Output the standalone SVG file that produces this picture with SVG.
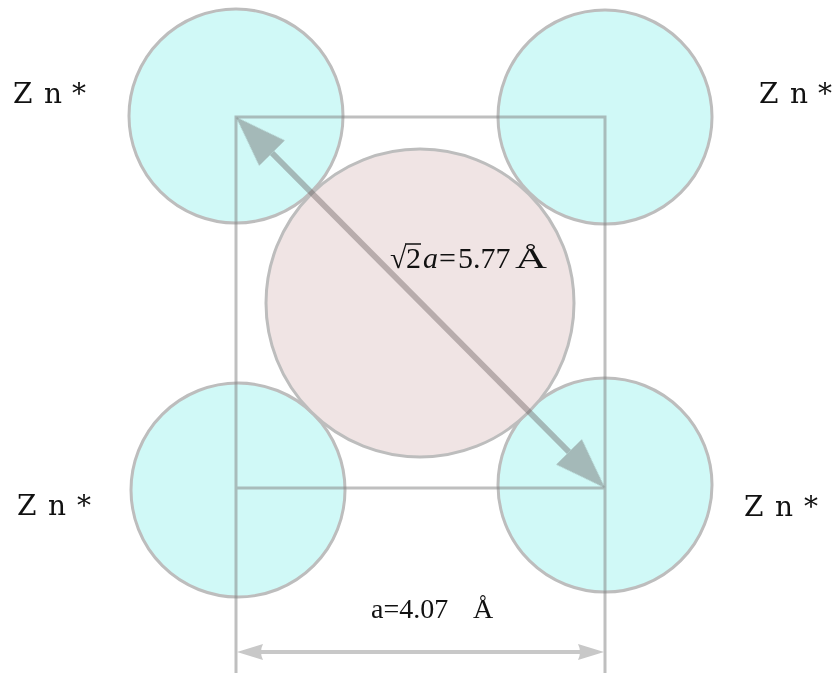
<svg xmlns="http://www.w3.org/2000/svg" width="832" height="673" viewBox="0 0 832 673">
<style>
.zn{fill:#d0f9f7;stroke:#bdbdbd;stroke-width:3}
.cl{fill:#f0e4e4;stroke:#bdbdbd;stroke-width:3}
.lbl{font-family:"DejaVu Serif","Liberation Serif",serif;font-size:28px;fill:#111}
.frame{stroke:#7f7f7f;stroke-opacity:0.5;stroke-width:3;fill:none}
.diag{stroke:#5a5050;stroke-width:6;fill:none}
.diagHead{fill:#5a5050}
.dim{stroke:#c8c8c8;stroke-width:4;fill:none}
.dimHead{fill:#c8c8c8}
.math{font-family:"Liberation Serif","Times New Roman",serif;font-size:30px;fill:#111}
</style>
<rect width="832" height="673" fill="#ffffff"/>
<g id="zn-top-left"><circle class="zn" cx="236" cy="116" r="107"/></g>
<g id="zn-top-right"><circle class="zn" cx="605" cy="117" r="107"/></g>
<g id="zn-bottom-left"><circle class="zn" cx="238" cy="490" r="107"/></g>
<g id="zn-bottom-right"><circle class="zn" cx="605" cy="485" r="107"/></g>
<g id="center"><circle class="cl" cx="420" cy="303" r="154"/></g>
<g id="connectors">
  <path class="frame" d="M236,673 V117 H605 V673 M236,488 H605"/>
  <g opacity="0.38">
    <line class="diag" x1="272" y1="153" x2="569" y2="452"/>
    <path class="diagHead" transform="translate(236,117) rotate(45.15)" d="M0,0 Q26,9 51,18 L51,-18 Q26,-9 0,0 Z"/>
    <path class="diagHead" transform="translate(605,488) rotate(225.15)" d="M0,0 Q26,9 51,18 L51,-18 Q26,-9 0,0 Z"/>
  </g>
  <line class="dim" x1="255" y1="652" x2="586" y2="652"/>
  <path class="dimHead" d="M237,652 L263,644 Q259,652 263,660 Z"/>
  <path class="dimHead" d="M604,652 L578,644 Q582,652 578,660 Z"/>
</g>
<g id="labels">
  <text class="lbl" x="13 44 72" y="103">Zn*</text>
  <text class="lbl" x="759 790 818" y="103">Zn*</text>
  <text class="lbl" x="17 48 77" y="515">Zn*</text>
  <text class="lbl" x="744 775 804" y="516">Zn*</text>
</g>
<g id="formula">
  <text class="math" x="390" y="268">√</text>
  <text class="math" y="268"><tspan x="406">2</tspan><tspan x="423" font-style="italic">a</tspan><tspan x="439">=</tspan><tspan x="458">5.77</tspan><tspan x="515" textLength="32" lengthAdjust="spacingAndGlyphs">Å</tspan></text>
  <line x1="405" y1="244" x2="421" y2="244" stroke="#111" stroke-width="1.5"/>
</g>
<g id="dimension-label">
  <text class="math" style="font-size:28px" y="618"><tspan x="371">a=4.07</tspan><tspan x="473">Å</tspan></text>
</g>
</svg>
